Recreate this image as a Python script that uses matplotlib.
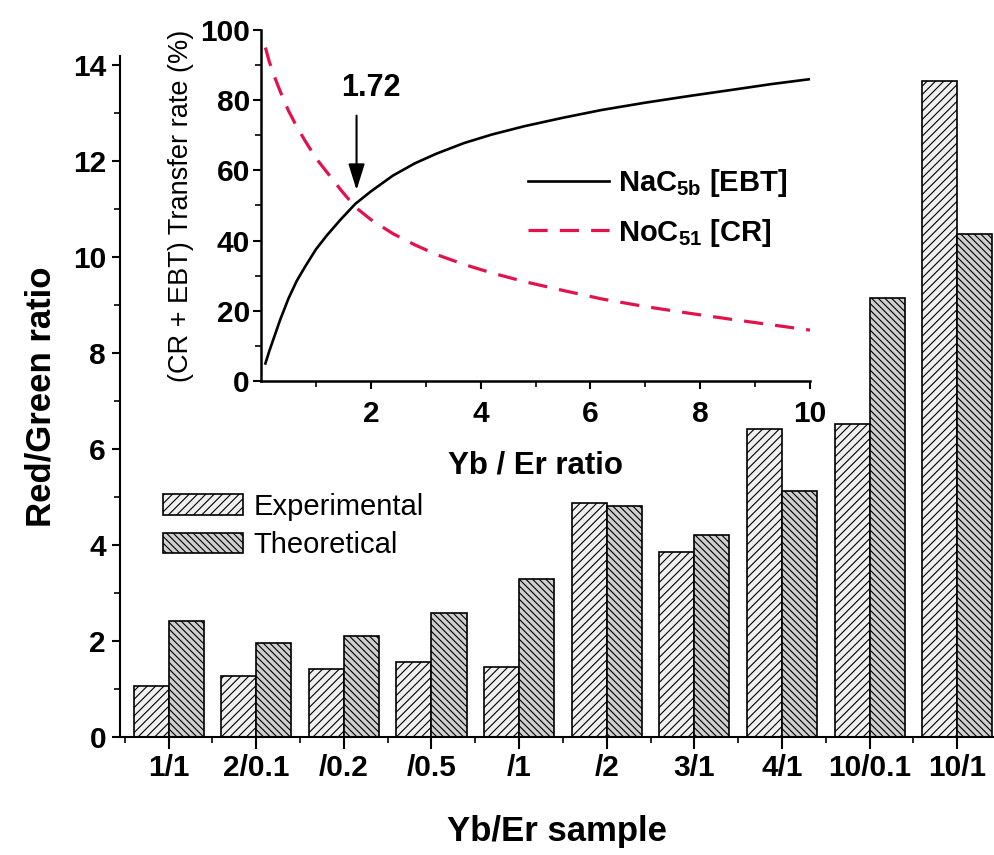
import matplotlib
matplotlib.use('Agg')
import matplotlib.pyplot as plt
import numpy as np
from matplotlib.ticker import MultipleLocator, FixedLocator

plt.rcParams['font.family'] = ['Liberation Sans', 'DejaVu Sans']
plt.rcParams['mathtext.fontset'] = 'custom'
plt.rcParams['mathtext.bf'] = 'Liberation Sans:bold'
plt.rcParams['mathtext.rm'] = 'Liberation Sans:bold'
plt.rcParams['mathtext.default'] = 'bf'
plt.rcParams['hatch.linewidth'] = 0.8

# main bar data
samples = ['1/1', '2/0.1', '/0.2', '/0.5', '/1', '/2', '3/1', '4/1', '10/0.1', '10/1']
experimental = [1.06, 1.27, 1.41, 1.56, 1.45, 4.87, 3.85, 6.41, 6.53, 13.68]
theoretical = [2.42, 1.96, 2.10, 2.58, 3.30, 4.82, 4.21, 5.12, 9.15, 10.49]

# inset curves
ratio = [0.08, 0.15, 0.25, 0.35, 0.5, 0.65, 0.8, 1.0, 1.2, 1.45, 1.72, 2.0, 2.4,
         2.8, 3.2, 3.7, 4.2, 4.8, 5.5, 6.2, 7.0, 7.8, 8.6, 9.3, 10]
ebt = [5, 8.5, 13, 17.5, 23.5, 28.5, 32.5, 37.5, 41.5, 46, 50.5, 54, 58.5,
       62, 64.8, 67.8, 70.2, 72.6, 75, 77.2, 79.3, 81.2, 83, 84.6, 86]
cr = [95, 91, 86.5, 82.5, 77, 72.5, 68.5, 63.5, 59.5, 54.5, 49.5, 46, 42,
      38.8, 36, 33.2, 30.8, 28.3, 25.8, 23.4, 21.2, 19.3, 17.5, 16, 14.5]

fig = plt.figure(figsize=(9.94, 8.55), dpi=100)
ax = fig.add_axes([0.1207, 0.138, 0.8793, 0.797])

x = np.arange(len(samples))
w = 0.4
ax.bar(x - w / 2, experimental, w, facecolor='#f0f0f0', edgecolor='black',
       linewidth=1.2, hatch='////', label='Experimental')
ax.bar(x + w / 2, theoretical, w, facecolor='#cfcfcf', edgecolor='black',
       linewidth=1.2, hatch='\\\\\\\\\\', label='Theoretical')

ax.set_xlim(-0.555, 9.42)
ax.set_ylim(0, 14.2)
ax.set_xticks(x)
ax.set_xticklabels(samples)
ax.xaxis.set_minor_locator(FixedLocator(np.arange(-0.5, 9.6, 1.0)))
ax.yaxis.set_major_locator(FixedLocator(np.arange(0, 15, 2)))
ax.yaxis.set_minor_locator(MultipleLocator(1))
for s in ['top', 'right']:
    ax.spines[s].set_visible(False)
for s in ['left', 'bottom']:
    ax.spines[s].set_linewidth(1.5)
ax.tick_params(axis='both', which='major', direction='out', width=1.5,
               labelsize=21.5, pad=4)
ax.tick_params(axis='x', which='major', length=8.5)
ax.tick_params(axis='y', which='major', length=6)
ax.tick_params(axis='both', which='minor', direction='out', width=1.2, length=4.5)
for lab in ax.get_xticklabels() + ax.get_yticklabels():
    lab.set_fontweight('bold')

ax.set_xlabel('Yb/Er sample', fontsize=25, fontweight='bold')
ax.set_ylabel('Red/Green ratio', fontsize=25, fontweight='bold')
ax.xaxis.set_label_coords(0.5, -0.114)
ax.yaxis.set_label_coords(-0.071, 0.5)

ax.legend(loc='center left', bbox_to_anchor=(0.049, 0.31), frameon=False,
          fontsize=21, handlelength=2.75, handleheight=0.69,
          handletextpad=0.35, labelspacing=0.35, borderpad=0, borderaxespad=0)

# inset
ins = fig.add_axes([0.2626, 0.5544, 0.5523, 0.4105])
ins.patch.set_alpha(0)
ins.plot(ratio, ebt, color='black', linewidth=1.9, label=r'NaC$_{5b}$ [EBT]')
ins.plot(ratio, cr, color='#e3124c', linewidth=2.3, dashes=(6, 3.8),
         label=r'NoC$_{51}$ [CR]')
ins.set_xlim(0, 10)
ins.set_ylim(0, 100)
ins.xaxis.set_major_locator(FixedLocator([2, 4, 6, 8, 10]))
ins.xaxis.set_minor_locator(FixedLocator([1, 3, 5, 7, 9]))
ins.yaxis.set_major_locator(MultipleLocator(20))
ins.yaxis.set_minor_locator(MultipleLocator(10))
for s in ['top', 'right']:
    ins.spines[s].set_visible(False)
for s in ['left', 'bottom']:
    ins.spines[s].set_linewidth(1.8)
ins.tick_params(axis='both', which='major', direction='out', width=1.5,
                length=6, labelsize=21.5)
ins.tick_params(axis='y', which='major', pad=2)
ins.tick_params(axis='x', which='major', pad=8)
ins.tick_params(axis='both', which='minor', direction='out', width=1.2, length=4)
for lab in ins.get_xticklabels() + ins.get_yticklabels():
    lab.set_fontweight('bold')
ins.set_xlabel('Yb / Er ratio', fontsize=22.5, fontweight='bold')
ins.set_ylabel('(CR + EBT) Transfer rate (%)', fontsize=19.5)
ins.xaxis.set_label_coords(0.5, -0.197)
ins.yaxis.set_label_coords(-0.122, 0.5)

ins.annotate('', xy=(1.74, 53.6), xytext=(1.74, 76.4),
             arrowprops=dict(arrowstyle='-|>,head_length=0.8,head_width=0.25',
                             color='black', lw=1.5, mutation_scale=20))
ins.text(2.0, 83.4, '1.72', fontsize=22, fontweight='bold', ha='center', va='center')

ins.legend(loc='center left', bbox_to_anchor=(0.486, 0.493), frameon=False,
           prop={'size': 21, 'weight': 'bold'}, handlelength=2.8,
           handletextpad=0.3, labelspacing=0.6, borderpad=0, borderaxespad=0)

fig.savefig('out.png', dpi=100, facecolor='white')
